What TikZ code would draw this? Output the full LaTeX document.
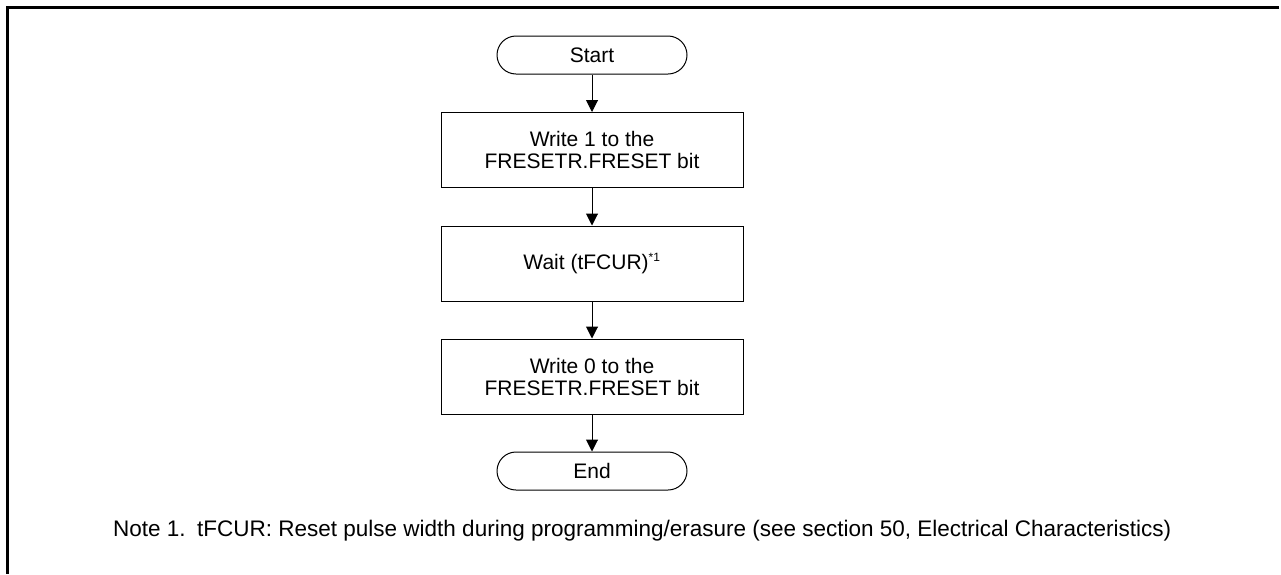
\documentclass[tikz,border=0pt]{standalone}
\usepackage{fontspec}
\setmainfont{Liberation Sans}
\usetikzlibrary{arrows.meta}
\begin{document}
\begin{tikzpicture}[x=1pt,y=-1pt,
  every node/.style={font=\fontsize{21}{22}\selectfont, align=center, inner sep=0pt},
  procbox/.style={draw, line width=1pt, minimum width=302pt, minimum height=75pt},
  termbox/.style={draw, line width=1pt, rounded corners=19pt, minimum width=190pt, minimum height=38pt},
  flow/.style={line width=1pt, -{Triangle[length=12pt,width=12pt]}},
  frame/.style={line width=3pt},
  notetext/.style={font=\fontsize{22.5}{24}\selectfont, align=left}]
\useasboundingbox (0,0) rectangle (1281,574);
\coordinate (ftl) at (7,7);
\coordinate (ftr) at (1279,7);
\coordinate (fbl) at (7,574);
\draw[frame] (ftr) -- (ftl) -- (fbl);
\node[termbox] (start) at (592,55) {Start};
\node[procbox] (w1) at (592,150) {Write 1 to the\\FRESETR.FRESET bit};
\node[procbox] (wait) at (592,263.5) {Wait (tFCUR)\textsuperscript{\fontsize{12}{12}\selectfont *1}};
\node[procbox] (w0) at (592,376.5) {Write 0 to the\\FRESETR.FRESET bit};
\node[termbox] (end) at (592,471) {End};
\draw[flow] (start) -- (w1);
\draw[flow] (w1) -- (wait);
\draw[flow] (wait) -- (w0);
\draw[flow] (w0) -- (end);
\node[notetext, anchor=west] (note) at (113,531) {\makebox[84pt][l]{Note 1.}tFCUR: Reset pulse width during programming/erasure (see section 50, Electrical Characteristics)};
\end{tikzpicture}
\end{document}
